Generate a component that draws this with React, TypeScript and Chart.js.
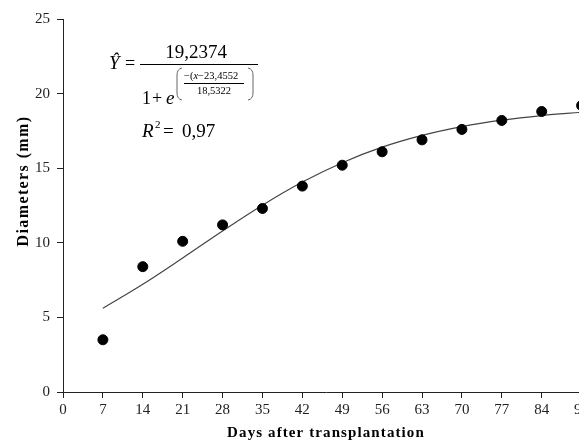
import React, { useEffect, useRef } from "react";
import { Chart, registerables } from "chart.js";

Chart.register(...registerables);

// ---- data ----
const observedDays = [7, 14, 21, 28, 35, 42, 49, 56, 63, 70, 77, 84, 91];
const observedDiameters = [3.5, 8.4, 10.1, 11.2, 12.3, 13.8, 15.2, 16.1, 16.9, 17.6, 18.2, 18.8, 19.2];

const curveDays = [7, 14, 21, 28, 35, 42, 49, 56, 63, 70, 77, 84, 91];
const curveDiameters = [5.61, 7.22, 8.98, 10.79, 12.52, 14.07, 15.37, 16.41, 17.2, 17.79, 18.22, 18.53, 18.75];

const xTicks = [0, 7, 14, 21, 28, 35, 42, 49, 56, 63, 70, 77, 84, 91];
const yTicks = [0, 5, 10, 15, 20, 25];

const xAxisTitle = "Days after transplantation";
const yAxisTitle = "Diameters (mm)";
const eqNumerator = "19,2374";
const eqExpNumerator = "23,4552";
const eqExpDenominator = "18,5322";
const eqR2 = "0,97";

const SERIF = '"Liberation Serif", "Times New Roman", serif';

const overlayPlugin = {
  id: "overlay",
  afterDraw(chart: any) {
    const ctx = chart.ctx as CanvasRenderingContext2D;
    ctx.save();
    ctx.fillStyle = "#000";
    ctx.textBaseline = "alphabetic";

    // axis titles
    ctx.font = `bold 15px ${SERIF}`;
    ctx.textAlign = "center";
    (ctx as any).letterSpacing = "1.1px";
    ctx.fillText(xAxisTitle, 326, 437);
    ctx.save();
    ctx.font = `bold 16px ${SERIF}`;
    (ctx as any).letterSpacing = "1.4px";
    ctx.translate(28, 181);
    ctx.rotate(-Math.PI / 2);
    ctx.fillText(yAxisTitle, 0, 0);
    ctx.restore();
    (ctx as any).letterSpacing = "0px";

    // equation
    ctx.textAlign = "left";
    ctx.font = `italic 19px ${SERIF}`;
    ctx.fillText("Ŷ", 109, 69);
    ctx.font = `18px ${SERIF}`;
    ctx.fillText("=", 125, 69);
    ctx.textAlign = "center";
    ctx.font = `19px ${SERIF}`;
    ctx.fillText(eqNumerator, 196, 58);
    ctx.fillRect(140, 64, 118, 1);

    ctx.textAlign = "left";
    ctx.font = `18px ${SERIF}`;
    ctx.fillText("1", 142, 104);
    ctx.fillText("+", 152, 104);
    ctx.font = `italic 19px ${SERIF}`;
    ctx.fillText("e", 166, 104);

    // big parentheses
    ctx.strokeStyle = "#666";
    ctx.lineWidth = 1;
    ctx.beginPath();
    ctx.moveTo(182, 68);
    ctx.quadraticCurveTo(177, 69, 177, 75);
    ctx.lineTo(177, 93);
    ctx.quadraticCurveTo(177, 99, 182, 100);
    ctx.moveTo(248, 68);
    ctx.quadraticCurveTo(253, 69, 253, 75);
    ctx.lineTo(253, 93);
    ctx.quadraticCurveTo(253, 99, 248, 100);
    ctx.stroke();

    // exponent fraction
    let x = 184;
    ctx.font = `10.5px ${SERIF}`;
    ctx.fillText("−(", x, 79);
    x += ctx.measureText("−(").width;
    ctx.font = `italic 10.5px ${SERIF}`;
    ctx.fillText("x", x, 79);
    x += ctx.measureText("x").width;
    ctx.font = `10.5px ${SERIF}`;
    ctx.fillText("−" + eqExpNumerator, x, 79);
    ctx.fillRect(184, 83, 60, 1);
    ctx.textAlign = "center";
    ctx.fillText(eqExpDenominator, 214, 94);

    // R^2
    ctx.textAlign = "left";
    ctx.font = `italic 19px ${SERIF}`;
    ctx.fillText("R", 142, 137);
    ctx.font = `11px ${SERIF}`;
    ctx.fillText("2", 155, 128);
    ctx.font = `19px ${SERIF}`;
    ctx.fillText("=", 163, 137);
    ctx.fillText(eqR2, 182, 137);

    ctx.restore();
  },
};

export default function App() {
  const canvasRef = useRef<HTMLCanvasElement | null>(null);

  useEffect(() => {
    if (!canvasRef.current) return;
    const chart = new Chart(canvasRef.current, {
      type: "scatter",
      data: {
        datasets: [
          {
            label: "Observed",
            data: observedDays.map((d, i) => ({ x: d, y: observedDiameters[i] })),
            backgroundColor: "#000",
            borderColor: "#000",
            pointRadius: 5,
            pointHoverRadius: 5,
            order: 0,
          },
          {
            label: "Fitted",
            data: curveDays.map((d, i) => ({ x: d, y: curveDiameters[i] })),
            showLine: true,
            borderColor: "#444",
            borderWidth: 1.2,
            pointRadius: 0,
            tension: 0.4,
            fill: false,
            order: 1,
          } as any,
        ],
      },
      options: {
        animation: false,
        responsive: true,
        maintainAspectRatio: false,
        layout: { padding: { top: 19, left: 0, right: 11, bottom: 0 } },
        plugins: {
          legend: { display: false },
          tooltip: { enabled: false },
          title: { display: false },
        },
        scales: {
          x: {
            type: "linear",
            min: 0,
            max: 92.3,
            afterBuildTicks: (scale: any) => {
              scale.ticks = xTicks.map((v) => ({ value: v }));
            },
            afterFit: (scale: any) => {
              scale.height = 50;
            },
            grid: { display: true, drawOnChartArea: false, drawTicks: true, tickLength: 6, color: "#222" },
            border: { display: true, color: "#222", width: 1 },
            ticks: {
              color: "#222",
              font: { family: SERIF, size: 15 },
              padding: 3,
              maxRotation: 0,
              autoSkip: false,
            },
          },
          y: {
            type: "linear",
            min: 0,
            max: 25,
            afterBuildTicks: (scale: any) => {
              scale.ticks = yTicks.map((v) => ({ value: v }));
            },
            afterFit: (scale: any) => {
              scale.width = 63;
            },
            grid: { display: true, drawOnChartArea: false, drawTicks: true, tickLength: 6, color: "#222" },
            border: { display: true, color: "#222", width: 1 },
            ticks: {
              color: "#222",
              font: { family: SERIF, size: 15 },
              padding: 7,
            },
          },
        },
      },
      plugins: [overlayPlugin],
    });
    return () => chart.destroy();
  }, []);

  return (
    <div
      style={{
        position: "fixed",
        left: 0,
        top: 0,
        width: 579,
        height: 442,
        overflow: "hidden",
        background: "#fff",
      }}
    >
      <div style={{ position: "relative", width: 600, height: 442 }}>
        <canvas ref={canvasRef} />
      </div>
    </div>
  );
}
